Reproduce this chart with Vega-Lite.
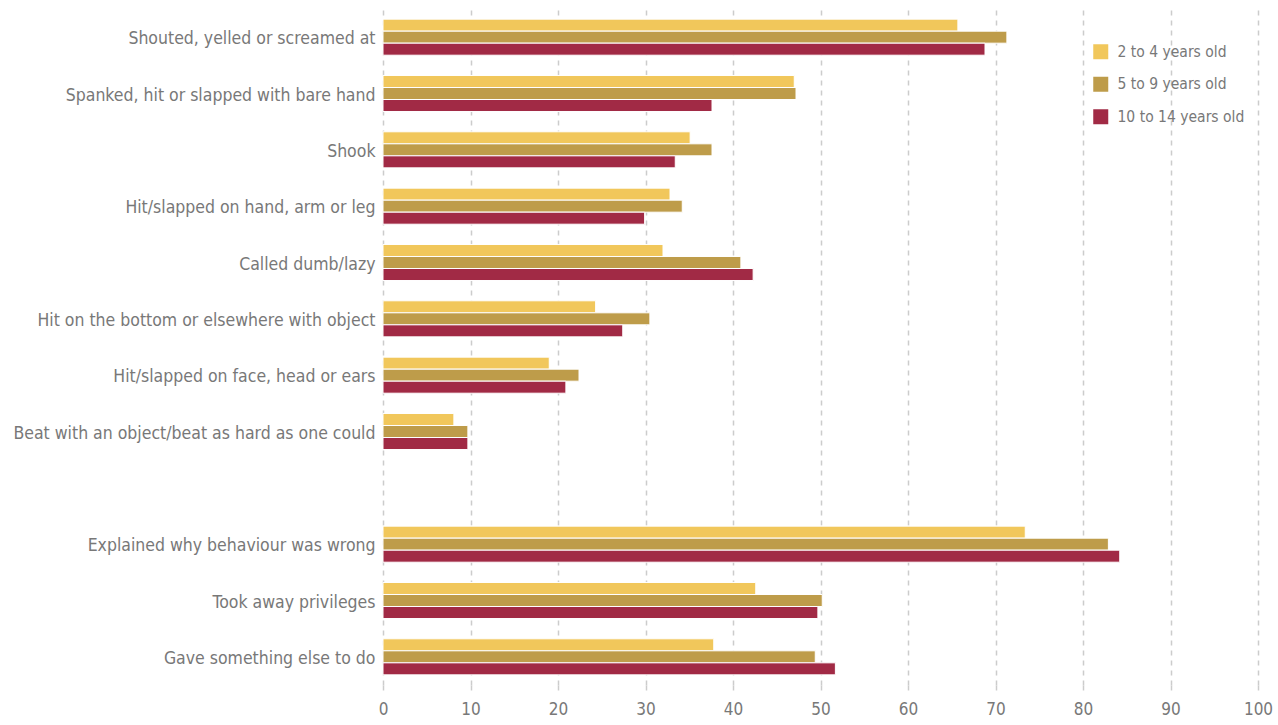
{
  "$schema": "https://vega.github.io/schema/vega-lite/v6.json",
  "width": 875,
  "height": 676,
  "autosize": "none",
  "padding": {"left": 383, "top": 9, "right": 20, "bottom": 40},
  "background": "white",
  "config": {
    "font": "DejaVu Sans Condensed",
    "view": {"stroke": null}
  },
  "data": {
    "values": [
      {"item": "Shouted, yelled or screamed at", "age": "2 to 4 years old", "value": 65.7},
      {"item": "Shouted, yelled or screamed at", "age": "5 to 9 years old", "value": 71.3},
      {"item": "Shouted, yelled or screamed at", "age": "10 to 14 years old", "value": 68.8},
      {"item": "Spanked, hit or slapped with bare hand", "age": "2 to 4 years old", "value": 47.0},
      {"item": "Spanked, hit or slapped with bare hand", "age": "5 to 9 years old", "value": 47.2},
      {"item": "Spanked, hit or slapped with bare hand", "age": "10 to 14 years old", "value": 37.6},
      {"item": "Shook", "age": "2 to 4 years old", "value": 35.1},
      {"item": "Shook", "age": "5 to 9 years old", "value": 37.6},
      {"item": "Shook", "age": "10 to 14 years old", "value": 33.4},
      {"item": "Hit/slapped on hand, arm or leg", "age": "2 to 4 years old", "value": 32.8},
      {"item": "Hit/slapped on hand, arm or leg", "age": "5 to 9 years old", "value": 34.2},
      {"item": "Hit/slapped on hand, arm or leg", "age": "10 to 14 years old", "value": 29.9},
      {"item": "Called dumb/lazy", "age": "2 to 4 years old", "value": 32.0},
      {"item": "Called dumb/lazy", "age": "5 to 9 years old", "value": 40.9},
      {"item": "Called dumb/lazy", "age": "10 to 14 years old", "value": 42.3},
      {"item": "Hit on the bottom or elsewhere with object", "age": "2 to 4 years old", "value": 24.3},
      {"item": "Hit on the bottom or elsewhere with object", "age": "5 to 9 years old", "value": 30.5},
      {"item": "Hit on the bottom or elsewhere with object", "age": "10 to 14 years old", "value": 27.4},
      {"item": "Hit/slapped on face, head or ears", "age": "2 to 4 years old", "value": 19.0},
      {"item": "Hit/slapped on face, head or ears", "age": "5 to 9 years old", "value": 22.4},
      {"item": "Hit/slapped on face, head or ears", "age": "10 to 14 years old", "value": 20.9},
      {"item": "Beat with an object/beat as hard as one could", "age": "2 to 4 years old", "value": 8.1},
      {"item": "Beat with an object/beat as hard as one could", "age": "5 to 9 years old", "value": 9.7},
      {"item": "Beat with an object/beat as hard as one could", "age": "10 to 14 years old", "value": 9.7},
      {"item": "Explained why behaviour was wrong", "age": "2 to 4 years old", "value": 73.4},
      {"item": "Explained why behaviour was wrong", "age": "5 to 9 years old", "value": 82.9},
      {"item": "Explained why behaviour was wrong", "age": "10 to 14 years old", "value": 84.2},
      {"item": "Took away privileges", "age": "2 to 4 years old", "value": 42.6},
      {"item": "Took away privileges", "age": "5 to 9 years old", "value": 50.2},
      {"item": "Took away privileges", "age": "10 to 14 years old", "value": 49.7},
      {"item": "Gave something else to do", "age": "2 to 4 years old", "value": 37.8},
      {"item": "Gave something else to do", "age": "5 to 9 years old", "value": 49.4},
      {"item": "Gave something else to do", "age": "10 to 14 years old", "value": 51.7}
    ]
  },
  "mark": {"type": "bar", "stroke": "white", "strokeWidth": 1},
  "encoding": {
    "y": {
      "field": "item",
      "type": "nominal",
      "scale": {
        "domain": [
          "Shouted, yelled or screamed at",
          "Spanked, hit or slapped with bare hand",
          "Shook",
          "Hit/slapped on hand, arm or leg",
          "Called dumb/lazy",
          "Hit on the bottom or elsewhere with object",
          "Hit/slapped on face, head or ears",
          "Beat with an object/beat as hard as one could",
          " ",
          "Explained why behaviour was wrong",
          "Took away privileges",
          "Gave something else to do"
        ],
        "paddingInner": 0.36,
        "paddingOuter": 0.18
      },
      "axis": {
        "title": null,
        "domain": false,
        "ticks": false,
        "labelFontSize": 17.5,
        "labelColor": "#787878",
        "labelPadding": 8,
        "labelOffset": 2,
        "labelLimit": 400
      }
    },
    "yOffset": {
      "field": "age",
      "type": "nominal",
      "sort": ["2 to 4 years old", "5 to 9 years old", "10 to 14 years old"],
      "scale": {"paddingInner": 0, "paddingOuter": 0}
    },
    "x": {
      "field": "value",
      "type": "quantitative",
      "scale": {"domain": [0, 100], "nice": false},
      "axis": {
        "title": null,
        "domain": false,
        "values": [0, 10, 20, 30, 40, 50, 60, 70, 80, 90, 100],
        "grid": true,
        "gridColor": "#cccccc",
        "gridDash": [5, 5],
        "gridWidth": 1.5,
        "tickColor": "#cccccc",
        "tickDash": [5, 5],
        "tickWidth": 1.5,
        "tickSize": 6,
        "labelFlush": false,
        "labelFontSize": 17,
        "labelColor": "#787878",
        "labelPadding": 10
      }
    },
    "color": {
      "field": "age",
      "type": "nominal",
      "sort": ["2 to 4 years old", "5 to 9 years old", "10 to 14 years old"],
      "scale": {"range": ["#F1C75B", "#BE9C4A", "#A12A45"]},
      "legend": {
        "title": null,
        "orient": "none",
        "legendX": 710,
        "legendY": 35,
        "symbolType": "square",
        "symbolSize": 225,
        "symbolStrokeWidth": 0,
        "labelFontSize": 15.5,
        "labelColor": "#787878",
        "labelOffset": 9,
        "rowPadding": 15.5,
        "padding": 0
      }
    }
  }
}
